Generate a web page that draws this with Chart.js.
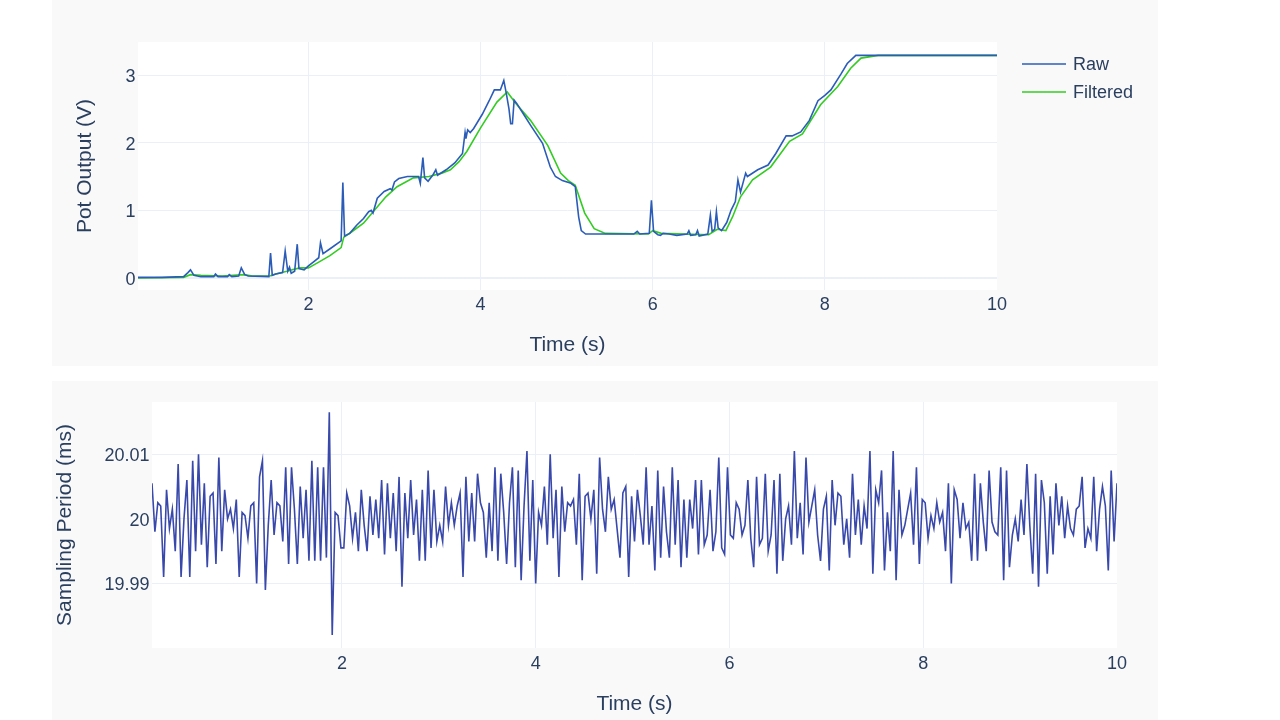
<!DOCTYPE html>
<html>
<head>
<meta charset="utf-8">
<title>Pot output and sampling period</title>
<script src="https://cdn.jsdelivr.net/npm/chart.js@4.4.1/dist/chart.umd.min.js"></script>
<style>
  html, body { margin: 0; padding: 0; background: #fff; }
  body { width: 1280px; height: 720px; position: relative; overflow: hidden; }
  .panel { position: absolute; left: 52px; width: 1106px; background: #f9f9f9; }
  .panel canvas { display: block; }
  #potPanel { top: 0; height: 366px; }
  #periodPanel { top: 381px; height: 339px; }
</style>
</head>
<body>
<div class="panel" id="potPanel"><canvas id="potChart" width="1106" height="366"></canvas></div>
<div class="panel" id="periodPanel"><canvas id="periodChart" width="1106" height="339"></canvas></div>
<script>
// pot output, raw ADC reading (s, V)
const rawTime = [
  0.02, 0.30, 0.55, 0.60, 0.63, 0.67, 0.75, 0.90, 0.92, 0.95,
  1.06, 1.08, 1.11, 1.19, 1.22, 1.26, 1.30, 1.54, 1.56, 1.58,
  1.62, 1.70, 1.73, 1.76, 1.78, 1.80, 1.84, 1.87, 1.89, 1.95,
  2.00, 2.06, 2.12, 2.14, 2.17, 2.26, 2.38, 2.40, 2.42, 2.48,
  2.56, 2.64, 2.70, 2.73, 2.75, 2.80, 2.88, 2.95, 2.97, 3.00,
  3.05, 3.15, 3.28, 3.30, 3.33, 3.35, 3.39, 3.45, 3.48, 3.50,
  3.60, 3.70, 3.79, 3.82, 3.83, 3.85, 3.88, 3.92, 4.02, 4.10,
  4.16, 4.23, 4.27, 4.30, 4.33, 4.35, 4.37, 4.39, 4.42, 4.50,
  4.58, 4.72, 4.81, 4.87, 4.95, 5.05, 5.10, 5.14, 5.17, 5.22,
  5.78, 5.82, 5.85, 5.96, 5.985, 6.01, 6.06, 6.09, 6.12, 6.19,
  6.28, 6.40, 6.42, 6.44, 6.50, 6.52, 6.54, 6.64, 6.67, 6.69,
  6.72, 6.74, 6.76, 6.80, 6.86, 6.91, 6.96, 6.99, 7.02, 7.08,
  7.10, 7.22, 7.34, 7.43, 7.55, 7.62, 7.72, 7.82, 7.92, 8.00,
  8.07, 8.19, 8.26, 8.36, 10.00
];
const rawVolts = [
  0.01, 0.01, 0.02, 0.08, 0.12, 0.04, 0.02, 0.02, 0.06, 0.02,
  0.02, 0.05, 0.02, 0.03, 0.15, 0.05, 0.03, 0.02, 0.37, 0.04,
  0.06, 0.08, 0.40, 0.10, 0.16, 0.07, 0.10, 0.50, 0.14, 0.12,
  0.18, 0.24, 0.30, 0.52, 0.36, 0.44, 0.55, 1.41, 0.62, 0.66,
  0.78, 0.88, 0.98, 1.00, 0.96, 1.18, 1.28, 1.32, 1.30, 1.42,
  1.47, 1.50, 1.50, 1.40, 1.78, 1.48, 1.43, 1.53, 1.60, 1.52,
  1.60, 1.70, 1.84, 2.15, 2.06, 2.19, 2.15, 2.21, 2.42, 2.62,
  2.78, 2.78, 2.92, 2.72, 2.50, 2.28, 2.28, 2.63, 2.58, 2.42,
  2.26, 1.99, 1.64, 1.50, 1.44, 1.40, 1.35, 0.90, 0.70, 0.65,
  0.65, 0.69, 0.65, 0.66, 1.15, 0.69, 0.64, 0.63, 0.66, 0.65,
  0.63, 0.65, 0.70, 0.63, 0.64, 0.70, 0.62, 0.65, 0.93, 0.69,
  0.72, 0.98, 0.74, 0.70, 0.82, 1.00, 1.13, 1.45, 1.27, 1.55,
  1.50, 1.60, 1.67, 1.84, 2.10, 2.10, 2.16, 2.33, 2.62, 2.70,
  2.78, 3.02, 3.17, 3.29, 3.29
];

// pot output after the low-pass filter (s, V)
const filteredTime = [
  0.02, 0.55, 0.63, 0.75, 1.00, 1.25, 1.35, 1.55, 1.62, 1.75,
  1.80, 1.90, 2.00, 2.10, 2.25, 2.38, 2.41, 2.50, 2.64, 2.74,
  2.90, 3.03, 3.22, 3.40, 3.55, 3.65, 3.75, 3.84, 4.00, 4.19,
  4.31, 4.41, 4.58, 4.78, 4.93, 5.02, 5.10, 5.21, 5.32, 5.45,
  5.95, 6.00, 6.10, 6.65, 6.75, 6.85, 6.93, 7.02, 7.16, 7.37,
  7.59, 7.74, 7.95, 8.15, 8.30, 8.42, 8.62, 10.00
];
const filteredVolts = [
  0.00, 0.01, 0.05, 0.04, 0.03, 0.05, 0.03, 0.03, 0.06, 0.10,
  0.12, 0.15, 0.15, 0.22, 0.33, 0.45, 0.60, 0.68, 0.81, 0.96,
  1.20, 1.35, 1.48, 1.50, 1.55, 1.60, 1.72, 1.87, 2.22, 2.60,
  2.75, 2.58, 2.33, 1.96, 1.55, 1.44, 1.37, 0.96, 0.73, 0.66,
  0.65, 0.70, 0.66, 0.64, 0.72, 0.70, 0.91, 1.20, 1.45, 1.64,
  2.02, 2.13, 2.56, 2.83, 3.10, 3.25, 3.29, 3.29
];

// sampling period minus 20 ms, in microseconds; one sample every 0.03 s from 0.04 s
const periodStart = 0.04;
const periodStep = 0.03;
const periodOffsetUs = [
  5.5, -2, 2.5, 2, -9, 4.5, -1.5, 1.5, -5, 8.5,
  -9, 0, 6, -9, 9, -5, 10, -4, 5.5, -7.5,
  3.5, 4, -7, 9.5, -5, 4.5, 0, 1.5, -1.5, 3,
  -9, 1, 0.5, -3, 2, 2.5, -10, 6.5, 9, -11,
  -1, 6, -2.5, 2.5, 2, -3.5, 8, -7, 8, 1.5,
  -7, 5, -3, 4.5, -6.5, 9, -6.5, 8, -6.5, 8,
  -6, 16.5, -18, 1, 0.5, -4.5,
  -4.5, 4, 2, -3, 1, -5, 4.5, -1, -5, 3.5,
  -2.5, 3, -3, 6, -5.5, 5.5, -3, 4, -5, 6.5,
  -10.5, 4, -3, 6, -2.5, 3, -6.5, 4.5, -6.5, 7.5,
  -4.5, 4.5, -3.5, -1, -3.5, 5, -1, 2.5, -1, 2,
  4, -9, 6.5, -3.5, 4, -3.5, 7, 2.5, 1, -6,
  2.5, -5, 8, -6.5, 7, 1, -7, 2.5, 8, -7.5,
  7.5, -9.5, 2, 10.5, -6.5, 6, -10, 1, -1, 5,
  -4, 10, -3, 4.5, -9, 5, -2, 2.5, 2, 3,
  -4, 7, -9.5, 3.5, 4, 0, 4.5, -8.5, 9.5, 1.5,
  -2, 6.5, 1.5, 3, -1.5, -6, 4, 5, -9, 3.5,
  -3.5, 4.5, 0.5,
  -4, 8, -4, 2, -8, 7.5, -6, 5, -2, -6,
  8, -4, 6, -7.5, 3, -6, 3, -1.5, 6, -5.5,
  6, -4, -2.5, 4.5, -5, -2, 9.5, -4.5, -5.5, 8,
  -2.5, -3, 2.5, 1.5, -2.5, -1, 6, -3, -7.5, 6.5,
  -4, -3, 7, -5, -2.5, 6, -8.5, 7, -6.5, 0,
  2, -4, 10.5, -3, 2.5, -5.5, 9.5, -0.5, 2, 4.5,
  -2.5, -6.5, 1.5, 3.5, -8, 6, -1, 4, 3.5, -4,
  0, -6, 7, -2.5, 3, -4, 2, -1.5, 10.5, -8.5,
  4.5, 2.5, 7.5, -8, 1, -5, 10.5, -9.5, 4.5, -2.5,
  -1, 1.5, 4, -4, 8, -7, 3, 2.5, -3,
  0.5, -1.5, 2.5, -0.5, 1, -5, 5.5, -10, 4.5, 3,
  -3, 2.5, -1.5, -0.5, -6.5, 7, -6.5, 5.5, -0.5, -5,
  7.5, -0.5, -2, -2.5, 8, -9.5, 7.5, -7.5, -2.5, 0,
  -3.5, 3, -2.5, 8.5, -1, -8.5, 7, -10.5, 6, 2.5,
  -8.5, 3.5, -5.5, 5.5, -1, 3.5, -3, 2, -1.5, -2.5,
  1.5, 2, 6.5, -4.5, -1.5, -3, 6.5, -5, 1.5, 5,
  2, -8, 7.5, -3.5, 5.5
];

const timeTicks = [2, 4, 6, 8, 10];
const potTicks = [0, 1, 2, 3];
const periodTicks = [19.99, 20, 20.01];

const textColor = '#2a3f5f';
const gridColor = '#ebf0f8';

Chart.defaults.font.family = '"Liberation Sans", Arial, sans-serif';
Chart.defaults.color = textColor;
Chart.defaults.animation = false;

const toPoints = (xs, ys) => xs.map((x, i) => ({ x: x, y: ys[i] }));
const periodPoints = periodOffsetUs.map((v, i) => ({
    x: +(periodStart + i * periodStep).toFixed(2),
    y: 20 + v / 1000
}));

// white plotting area on the grey panel
const plotBackground = {
    id: 'plotBackground',
    beforeDraw(chart) {
        const { ctx, chartArea: a } = chart;
        ctx.save();
        ctx.fillStyle = '#ffffff';
        ctx.fillRect(a.left, a.top, a.right - a.left, a.bottom - a.top);
        ctx.restore();
    }
};

// legend at the right of the top chart
const sideLegend = {
    id: 'sideLegend',
    afterDraw(chart) {
        const ctx = chart.ctx;
        const x = chart.chartArea.right + 25;
        ctx.save();
        ctx.font = '18px "Liberation Sans", Arial, sans-serif';
        ctx.textBaseline = 'middle';
        ctx.textAlign = 'left';
        chart.data.datasets.forEach((ds, i) => {
            const y = 64 + i * 28;
            ctx.strokeStyle = ds.borderColor;
            ctx.lineWidth = 1.6;
            ctx.beginPath();
            ctx.moveTo(x, y);
            ctx.lineTo(x + 44, y);
            ctx.stroke();
            ctx.fillStyle = textColor;
            ctx.fillText(ds.label, x + 51, y + 1.5);
        });
        ctx.restore();
    }
};

function xAxis(min, height, tickPad, titlePad) {
    return {
        type: 'linear',
        min: min,
        max: 10,
        afterBuildTicks: (axis) => { axis.ticks = timeTicks.map(v => ({ value: v })); },
        afterFit: (axis) => { axis.height = height; },
        ticks: { padding: tickPad, font: { size: 18 }, color: textColor, maxRotation: 0 },
        grid: {
            drawTicks: false,
            color: (c) => (c.tick && c.tick.value === 10 ? 'rgba(0,0,0,0)' : gridColor)
        },
        border: { display: false },
        title: {
            display: true,
            text: 'Time (s)',
            font: { size: 21, lineHeight: 1 },
            color: textColor,
            padding: { top: 0, bottom: titlePad }
        }
    };
}

function yAxis(min, max, tickValues, width, label, titlePad) {
    return {
        type: 'linear',
        min: min,
        max: max,
        afterBuildTicks: (axis) => { axis.ticks = tickValues.map(v => ({ value: v })); },
        afterFit: (axis) => { axis.width = width; },
        ticks: {
            padding: 2.5,
            labelOffset: 2,
            font: { size: 18 },
            color: textColor,
            callback: (v) => String(Number(v.toFixed(4)))
        },
        grid: {
            drawTicks: false,
            color: gridColor,
            lineWidth: (c) => (c.tick && c.tick.value === 0 ? 2 : 1)
        },
        border: { display: false },
        title: {
            display: true,
            text: label,
            font: { size: 21, lineHeight: 1 },
            color: textColor,
            padding: { top: titlePad, bottom: 0 }
        }
    };
}

new Chart(document.getElementById('potChart'), {
    type: 'line',
    data: {
        datasets: [
            {
                label: 'Raw',
                data: toPoints(rawTime, rawVolts),
                borderColor: '#2b5cb8',
                borderWidth: 1.6,
                pointRadius: 0,
                tension: 0
            },
            {
                label: 'Filtered',
                data: toPoints(filteredTime, filteredVolts),
                borderColor: '#33cc22',
                borderWidth: 1.6,
                pointRadius: 0,
                tension: 0
            }
        ]
    },
    options: {
        responsive: false,
        devicePixelRatio: 1,
        events: [],
        layout: { padding: { left: 0, right: 161, top: 42, bottom: 0 } },
        plugins: { legend: { display: false }, tooltip: { enabled: false } },
        scales: {
            x: xAxis(0.02, 76, 4, 10.5),
            y: yAxis(-0.177, 3.488, potTicks, 86, 'Pot Output (V)', 22.5)
        }
    },
    plugins: [plotBackground, sideLegend]
});

new Chart(document.getElementById('periodChart'), {
    type: 'line',
    data: {
        datasets: [{
            label: 'Sampling Period',
            data: periodPoints,
            borderColor: '#3949ab',
            borderWidth: 1.6,
            pointRadius: 0,
            tension: 0
        }]
    },
    options: {
        responsive: false,
        devicePixelRatio: 1,
        events: [],
        layout: { padding: { left: 0, right: 41, top: 21, bottom: 0 } },
        plugins: { legend: { display: false }, tooltip: { enabled: false } },
        scales: {
            x: xAxis(0.04, 72, 5, 5.5),
            y: yAxis(19.98, 20.0181, periodTicks, 100, 'Sampling Period (ms)', 3)
        }
    },
    plugins: [plotBackground]
});
</script>
</body>
</html>
